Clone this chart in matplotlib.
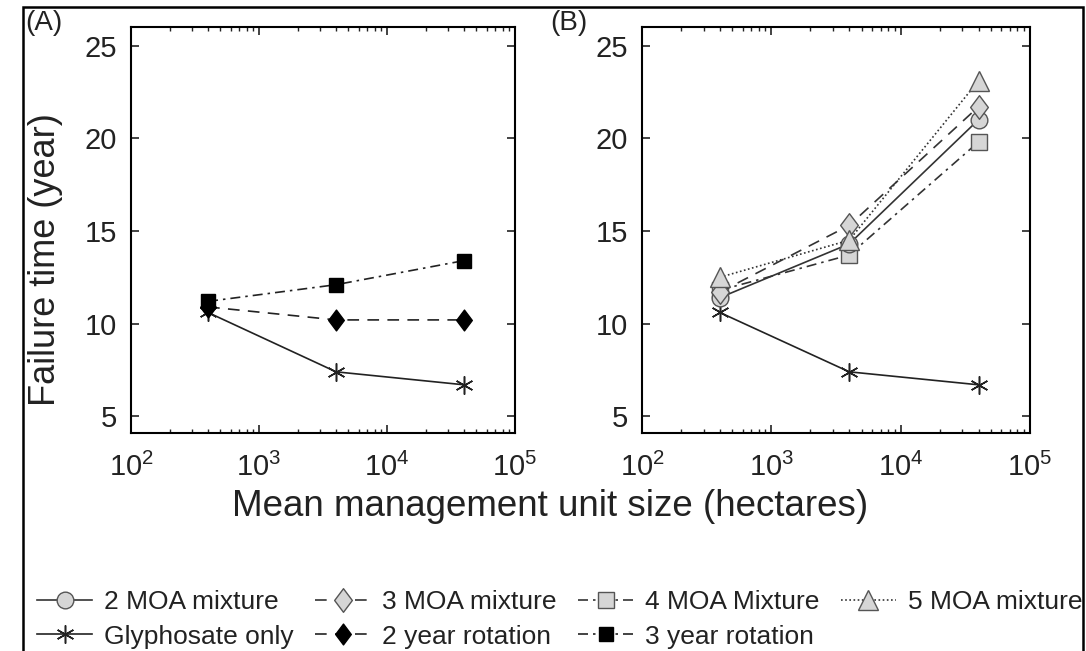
import numpy as np
import matplotlib.pyplot as plt
from matplotlib.path import Path
from matplotlib.patches import Rectangle

plt.rcParams['font.family'] = ['Liberation Sans', 'DejaVu Sans']
plt.rcParams['mathtext.fontset'] = 'custom'
plt.rcParams['mathtext.rm'] = 'Liberation Sans'
plt.rcParams['mathtext.it'] = 'Liberation Sans'

# mean management unit size (hectares)
unit_size = [400, 4000, 40000]

# panel A
glyphosate = [10.6, 7.4, 6.7]
rot2 = [10.9, 10.2, 10.2]
rot3 = [11.2, 12.1, 13.4]

# panel B
moa2 = [11.4, 14.3, 21.0]
moa3 = [11.7, 15.3, 21.7]
moa4 = [11.8, 13.7, 19.8]
moa5 = [12.5, 14.5, 23.1]

xticks = [1e2, 1e3, 1e4, 1e5]
yticks = [5, 10, 15, 20, 25]

# taller diamond like the matlab one
diamond = Path([(0, 1), (0.75, 0), (0, -1), (-0.75, 0), (0, 1)],
               [Path.MOVETO, Path.LINETO, Path.LINETO, Path.LINETO, Path.CLOSEPOLY])

fig = plt.figure(figsize=(10.86, 6.51), dpi=100)
axA = fig.add_axes([131/1086, 1 - 433/651, 384/1086, 406/651])
axB = fig.add_axes([642/1086, 1 - 433/651, 388/1086, 406/651])

lw = 1.2
dashed = (0, (7, 5))
dashdot = (0, (6, 3, 1.5, 3))
dotted = (0, (1, 1.5))
gly_kw = dict(color='#222222', lw=lw, ls='-', marker=(6, 2, 0), ms=13, mew=1.1)
grey = dict(mfc='#d6d6d6', mec='#555555', mew=1.0)

h_gly, = axA.plot(unit_size, glyphosate, label='Glyphosate only', **gly_kw)
h_r2, = axA.plot(unit_size, rot2, color='#222222', lw=lw, ls=dashed,
                 marker=diamond, ms=15, mfc='black', mec='black', label='2 year rotation')
h_r3, = axA.plot(unit_size, rot3, color='#222222', lw=lw, ls=dashdot,
                 marker='s', ms=10, mfc='black', mec='black', label='3 year rotation')

axB.plot(unit_size, glyphosate, **gly_kw)
h_m4, = axB.plot(unit_size, moa4, color='#333333', lw=lw, ls=dashdot,
                 marker='s', ms=11, label='4 MOA Mixture', **grey)
h_m2, = axB.plot(unit_size, moa2, color='#333333', lw=lw, ls='-',
                 marker='o', ms=12, label='2 MOA mixture', **grey)
h_m3, = axB.plot(unit_size, moa3, color='#333333', lw=lw, ls=dashed,
                 marker=diamond, ms=17, label='3 MOA mixture', **grey)
h_m5, = axB.plot(unit_size, moa5, color='#333333', lw=lw, ls=dotted,
                 marker='^', ms=15, label='5 MOA mixture', **grey)

for ax in (axA, axB):
    ax.set_xscale('log')
    ax.set_xlim(1e2, 1e5)
    ax.set_ylim(4.1, 26)
    ax.set_xticks(xticks)
    ax.set_yticks(yticks)
    ax.tick_params(which='both', direction='in', top=True, right=True,
                   labelsize=21, colors='#222222')
    ax.tick_params(which='major', length=6, width=1.2)
    ax.tick_params(which='minor', length=3, width=1.0)
    ax.tick_params(axis='x', pad=14)
    ax.tick_params(axis='y', pad=10)
    for s in ax.spines.values():
        s.set_linewidth(1.5)

fig.text(46/1086, 1 - 260/651, 'Failure time (year)', rotation=90,
         fontsize=26, ha='center', va='center', color='#222222')
fig.text(550/1086, 1 - 507/651, 'Mean management unit size (hectares)',
         fontsize=26.5, ha='center', va='center', color='#222222')
fig.text(25/1086, 1 - 23/651, '(A)', fontsize=20, ha='left', va='center', color='#222222')
fig.text(550/1086, 1 - 23/651, '(B)', fontsize=20, ha='left', va='center', color='#222222')

handles = [h_m2, h_gly, h_m3, h_r2, h_m4, h_r3, h_m5]
fig.legend(handles, [h.get_label() for h in handles], ncol=4, frameon=False,
           loc='upper left', bbox_to_anchor=(37/1086, 1 - 590/651),
           borderaxespad=0, borderpad=0, fontsize=19, handlelength=2.1,
           handletextpad=0.45, columnspacing=0.8, labelspacing=0.4,
           numpoints=1, labelcolor='#222222')

# outer frame of the image
fig.add_artist(Rectangle((23/1086, -0.01), (1083 - 23)/1086, 1.01 - 7/651,
                         transform=fig.transFigure, fill=False, lw=1.8, color='black'))

fig.savefig('out.png', dpi=100)
